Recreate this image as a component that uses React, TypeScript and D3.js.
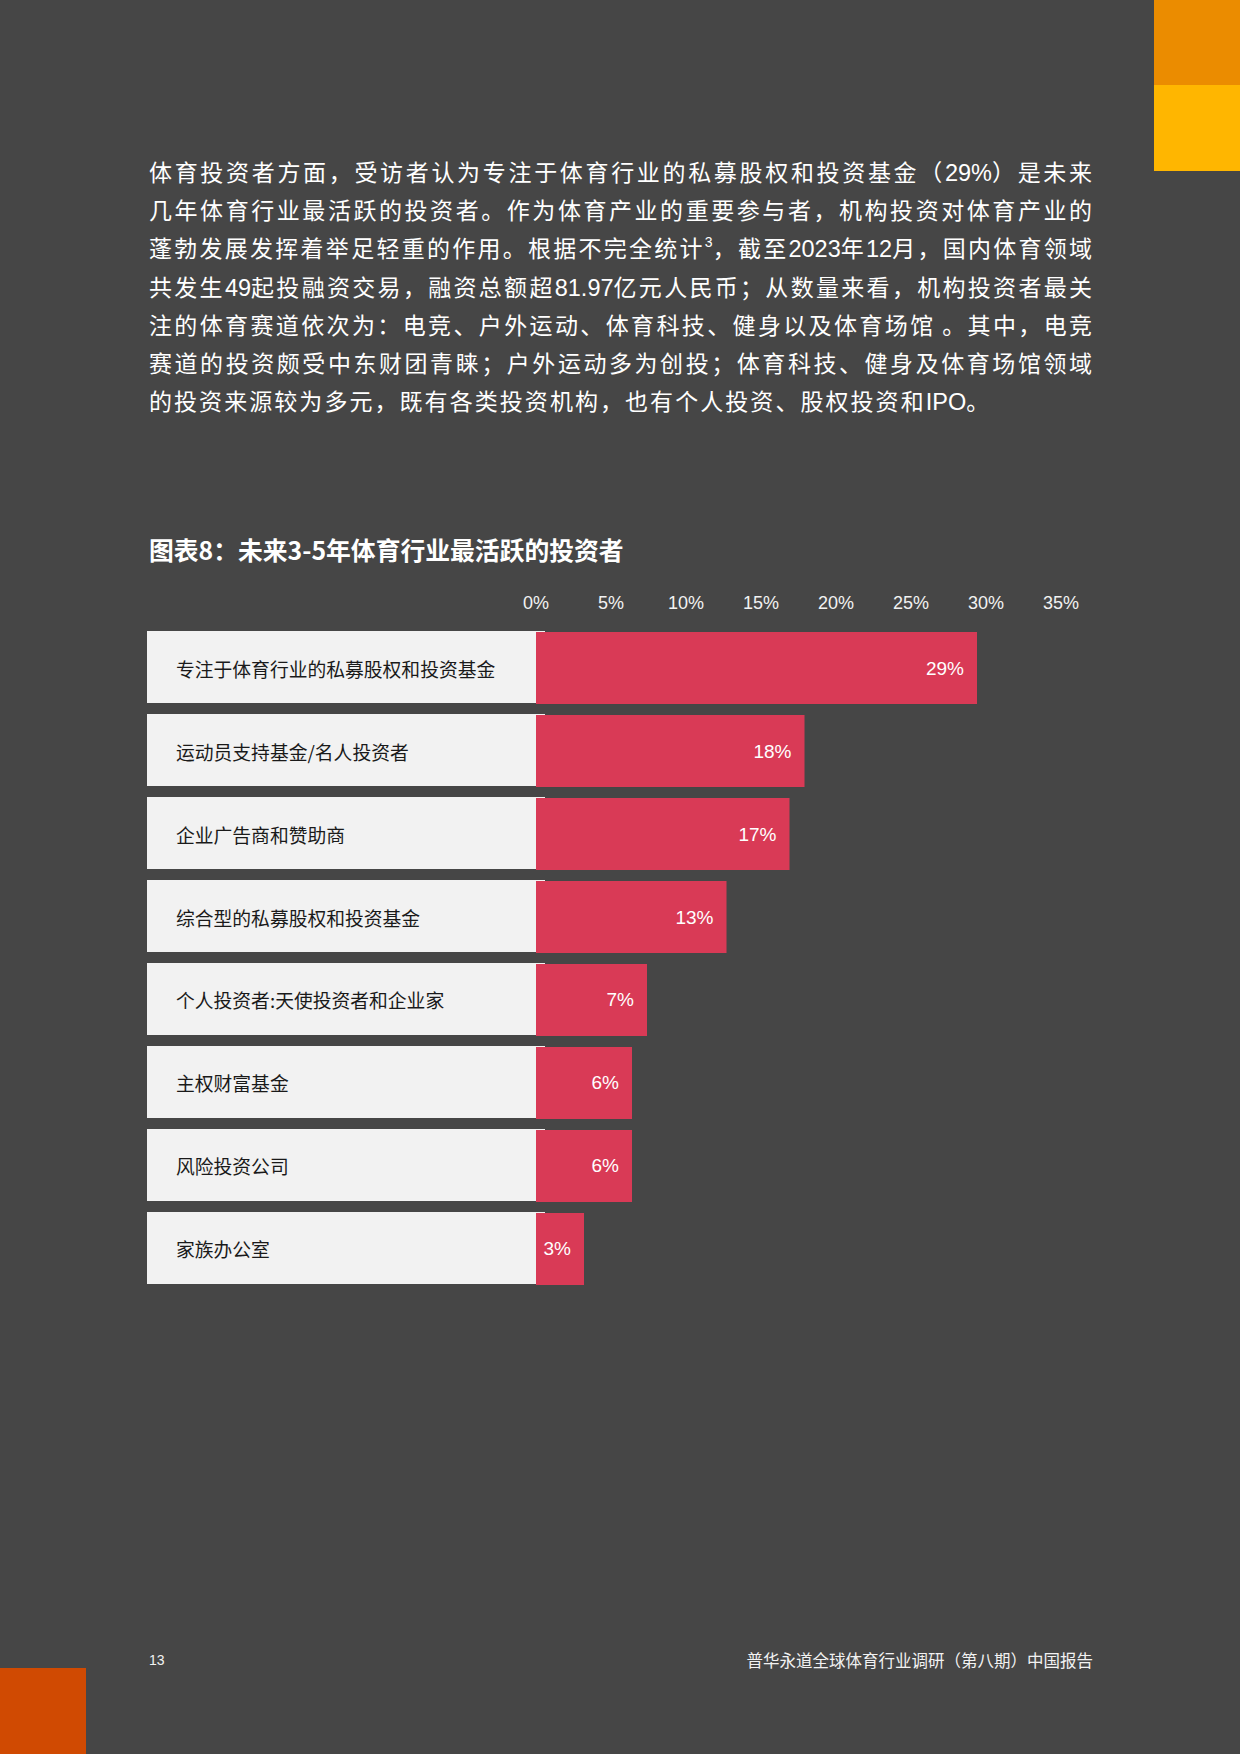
import React, { useLayoutEffect, useRef } from "react";
import * as d3 from "d3";

const categories = [
  "专注于体育行业的私募股权和投资基金",
  "运动员支持基金/名人投资者",
  "企业广告商和赞助商",
  "综合型的私募股权和投资基金",
  "个人投资者:天使投资者和企业家",
  "主权财富基金",
  "风险投资公司",
  "家族办公室",
];
const values = [29.4, 17.9, 16.9, 12.7, 7.4, 6.4, 6.4, 3.2];
const tickValues = [0, 5, 10, 15, 20, 25, 30, 35];

const paragraphLines = [
  "体育投资者方面，受访者认为专注于体育行业的私募股权和投资基金（29%）是未来",
  "几年体育行业最活跃的投资者。作为体育产业的重要参与者，机构投资对体育产业的",
  "蓬勃发展发挥着举足轻重的作用。根据不完全统计^3，截至2023年12月，国内体育领域",
  "共发生49起投融资交易，融资总额超81.97亿元人民币；从数量来看，机构投资者最关",
  "注的体育赛道依次为：电竞、户外运动、体育科技、健身以及体育场馆 。其中，电竞",
  "赛道的投资颇受中东财团青睐；户外运动多为创投；体育科技、健身及体育场馆领域",
  "的投资来源较为多元，既有各类投资机构，也有个人投资、股权投资和IPO。",
];

const chartTitle = "图表8：未来3-5年体育行业最活跃的投资者";
const pageNumber = "13";
const footerTitle = "普华永道全球体育行业调研（第八期）中国报告";

const BG = "#464646";
const CJK = "'Noto Sans CJK SC', 'Noto Sans', sans-serif";
const LATIN = "'Liberation Sans', Arial, sans-serif";

type Run = { text: string; kind: "cjk" | "latin" | "sup" };

function splitRuns(line: string): Run[] {
  const runs: Run[] = [];
  let i = 0;
  while (i < line.length) {
    const ch = line[i];
    if (ch === "^") {
      runs.push({ text: line[i + 1], kind: "sup" });
      i += 2;
      continue;
    }
    const isLatin = ch.charCodeAt(0) < 128;
    const kind = isLatin ? "latin" : "cjk";
    const last = runs[runs.length - 1];
    if (last && last.kind === kind) last.text += ch;
    else runs.push({ text: ch, kind });
    i += 1;
  }
  return runs;
}

const PARA_X = 149;
const PARA_W = 943;

export default function App() {
  const W = 1240;
  const H = 1754;
  const paraRef = useRef<SVGGElement | null>(null);

  const x = d3.scaleLinear().domain([0, 35]).range([536, 1061]);
  const y = d3
    .scaleBand<string>()
    .domain(categories)
    .range([631, 1284])
    .paddingInner(0.1325)
    .paddingOuter(0);
  const bw = y.bandwidth();

  useLayoutEffect(() => {
    if (!paraRef.current) return;
    const texts = d3.select(paraRef.current).selectAll<SVGTextElement, unknown>("text");
    const spacings: number[] = [];
    texts.each(function (_d, i) {
      const el = this;
      const cjk = d3.select(el).selectAll<SVGTSpanElement, unknown>("tspan.cjk");
      cjk.attr("letter-spacing", 0);
      const w = el.getComputedTextLength();
      let n = 0;
      cjk.each(function () {
        n += (this.textContent || "").length;
      });
      if (i < paragraphLines.length - 1) {
        const s = (PARA_W - w) / Math.max(1, n - 1);
        spacings.push(s);
        cjk.attr("letter-spacing", s);
      }
    });
    const avg = (d3.mean(spacings) || 3) - 0.4;
    texts.each(function (_d, i) {
      if (i === paragraphLines.length - 1) {
        d3.select(this).selectAll("tspan.cjk").attr("letter-spacing", avg);
      }
    });
  }, []);

  return (
    <div style={{ position: "absolute", left: 0, top: 0, width: W, height: H }}>
      <svg width={W} height={H} viewBox={`0 0 ${W} ${H}`} style={{ display: "block" }}>
        <rect x={0} y={0} width={W} height={H} fill={BG} />
        {/* corner decorations */}
        <rect x={1154} y={0} width={86} height={85} fill="#EB8C00" />
        <rect x={1154} y={85} width={86} height={86} fill="#FFB600" />
        <rect x={0} y={1668} width={86} height={86} fill="#D04A02" />

        {/* paragraph */}
        <g ref={paraRef}>
          {paragraphLines.map((line, i) => {
            const runs = splitRuns(line);
            return (
              <text
                key={i}
                x={PARA_X}
                y={181 + i * 38.2}
                fill="#ffffff"
                fontFamily={CJK}
                fontSize={23}
              >
                {runs.map((r, j) =>
                  r.kind === "sup" ? (
                    <tspan
                      key={j}
                      fontFamily={LATIN}
                      fontSize={14}
                      baselineShift="10"
                    >
                      {r.text}
                    </tspan>
                  ) : r.kind === "latin" ? (
                    <tspan key={j} fontFamily={LATIN} fontSize={23.5}>
                      {r.text}
                    </tspan>
                  ) : (
                    <tspan key={j} className="cjk">
                      {r.text}
                    </tspan>
                  )
                )}
              </text>
            );
          })}
        </g>

        {/* chart title */}
        <text
          x={149}
          y={560}
          fill="#ffffff"
          fontFamily={CJK}
          fontWeight={700}
          fontSize={24.8}
        >
          {chartTitle}
        </text>

        {/* tick labels */}
        {tickValues.map((t) => (
          <text
            key={t}
            x={x(t)}
            y={603}
            fill="#f2f2f2"
            fontFamily={LATIN}
            fontSize={18}
            textAnchor="middle"
            dominantBaseline="central"
          >
            {`${t}%`}
          </text>
        ))}

        {/* rows */}
        {categories.map((c, i) => {
          const top = y(c) as number;
          const v = values[i];
          return (
            <g key={c}>
              <rect x={147} y={top} width={398} height={bw} fill="#F2F2F2" />
              <rect
                x={x(0)}
                y={top + 1}
                width={x(v) - x(0)}
                height={bw}
                fill="#D93A56"
              />
              <text
                x={176}
                y={top + bw / 2 + 1}
                fill="#1a1a1a"
                fontFamily={CJK}
                fontSize={18.8}
                dominantBaseline="central"
              >
                {c}
              </text>
              <text
                x={x(v) - 13}
                y={top + bw / 2 + 1}
                fill="#ffffff"
                fontFamily={LATIN}
                fontSize={19}
                textAnchor="end"
                dominantBaseline="central"
              >
                {`${Math.round(v)}%`}
              </text>
            </g>
          );
        })}

        {/* footer */}
        <text
          x={149}
          y={1660}
          fill="#f2f2f2"
          fontFamily={LATIN}
          fontSize={14}
          dominantBaseline="central"
        >
          {pageNumber}
        </text>
        <text
          x={1093}
          y={1660}
          fill="#f2f2f2"
          fontFamily={CJK}
          fontSize={16.5}
          textAnchor="end"
          dominantBaseline="central"
        >
          {footerTitle}
        </text>
      </svg>
    </div>
  );
}
